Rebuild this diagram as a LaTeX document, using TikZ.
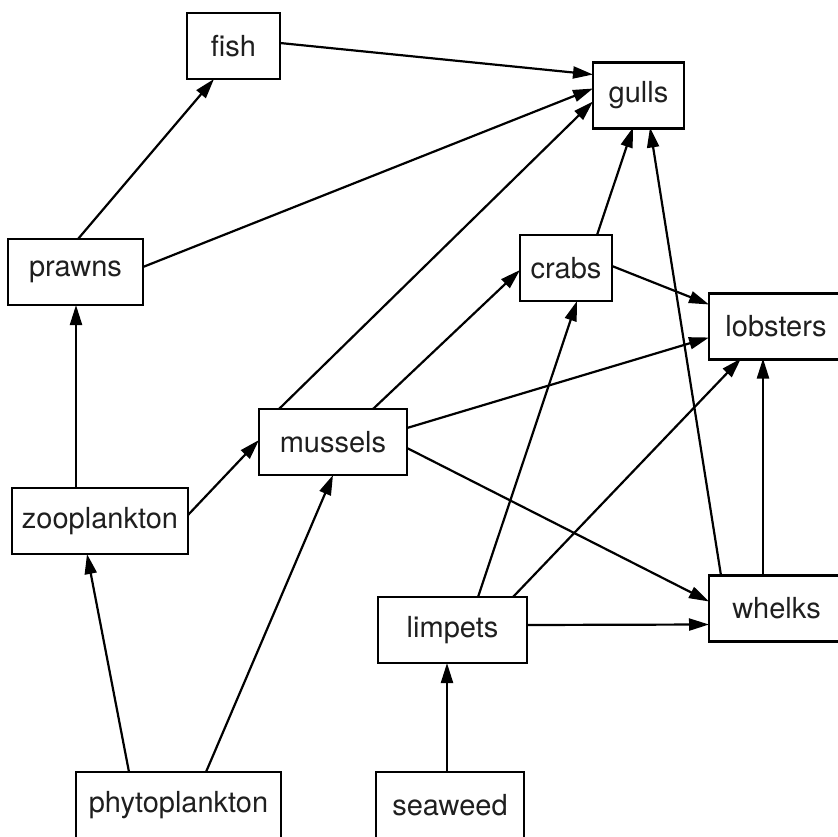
\documentclass[tikz,border=0pt]{standalone}
\usepackage{fontspec}
\setmainfont{TeX Gyre Heros}
\usetikzlibrary{arrows.meta,calc}
\begin{document}
\begin{tikzpicture}[x=1pt,y=-1pt,
  box/.style={draw, line width=2.4pt, rectangle, inner sep=0pt, outer sep=0pt,
    minimum height=66pt, font=\fontsize{29}{34}\selectfont, text=black!88},
  edge/.style={line width=2.2pt, -{Triangle[length=20pt,width=12pt]}}]
\useasboundingbox (0,0) rectangle (838,837);
\fill[white] (0,0) rectangle (838,837);
\node[box, minimum width=93pt]  (fish)    at (233.5,46)  {fish};
\node[box, minimum width=91pt]  (gulls)   at (638.5,95.5) {gulls};
\node[box, minimum width=135pt] (prawns)  at (75.5,272)  {prawns};
\node[box, minimum width=92pt]  (crabs)   at (566,268)   {crabs};
\node[box, minimum width=134pt] (lobsters) at (776,326.5) {lobsters};
\node[box, minimum width=148pt] (mussels) at (333,442)   {mussels};
\node[box, minimum width=176pt] (zoo)     at (100,521)   {zooplankton};
\node[box, minimum width=149pt] (limpets) at (452.5,630) {limpets};
\node[box, minimum width=135pt] (whelks)  at (776.5,608.5) {whelks};
\node[box, minimum width=205pt] (phyto)   at (178.5,805) {phytoplankton};
\node[box, minimum width=148pt] (seaweed) at (450,805)   {seaweed};
% edges
\draw[edge] ($(fish.north west)+(93,30)$) -- ($(gulls.north west)+(0,12)$);
\draw[edge] ($(prawns.north west)+(135,28)$) -- ($(gulls.north west)+(0,26)$);
\draw[edge] ($(mussels.north west)+(20,0)$) -- ($(gulls.north west)+(0,39)$);
\draw[edge] ($(crabs.north west)+(77,0)$) -- ($(gulls.north west)+(40,65)$);
\draw[edge] ($(whelks.north west)+(12,0)$) -- ($(gulls.north west)+(57,65)$);
\draw[edge] ($(prawns.north west)+(70,0)$) -- ($(fish.north west)+(27,66)$);
\draw[edge] ($(zoo.north west)+(64,0)$) -- ($(prawns.north west)+(68,66)$);
\draw[edge] ($(zoo.north west)+(176,27)$) -- ($(mussels.north west)+(0,31)$);
\draw[edge] ($(mussels.north west)+(114,0)$) -- ($(crabs.north west)+(0,35)$);
\draw[edge] ($(mussels.north west)+(148,19)$) -- ($(lobsters.north west)+(0,44)$);
\draw[edge] ($(mussels.north west)+(148,39)$) -- ($(whelks.north west)+(0,26)$);
\draw[edge] ($(crabs.north west)+(92,31)$) -- ($(lobsters.north west)+(0,11)$);
\draw[edge] ($(limpets.north west)+(100,0)$) -- ($(crabs.north west)+(57,66)$);
\draw[edge] ($(limpets.north west)+(135,0)$) -- ($(lobsters.north west)+(32,65)$);
\draw[edge] ($(limpets.north west)+(149,28)$) -- ($(whelks.north west)+(0,49)$);
\draw[edge] ($(whelks.north west)+(54,0)$) -- ($(lobsters.north west)+(54,65)$);
\draw[edge] ($(phyto.north west)+(53,0)$) -- ($(zoo.north west)+(75,66)$);
\draw[edge] ($(phyto.north west)+(130,0)$) -- ($(mussels.north west)+(74,66)$);
\draw[edge] ($(seaweed.north west)+(71,0)$) -- ($(limpets.north west)+(69,66)$);
\end{tikzpicture}
\end{document}
